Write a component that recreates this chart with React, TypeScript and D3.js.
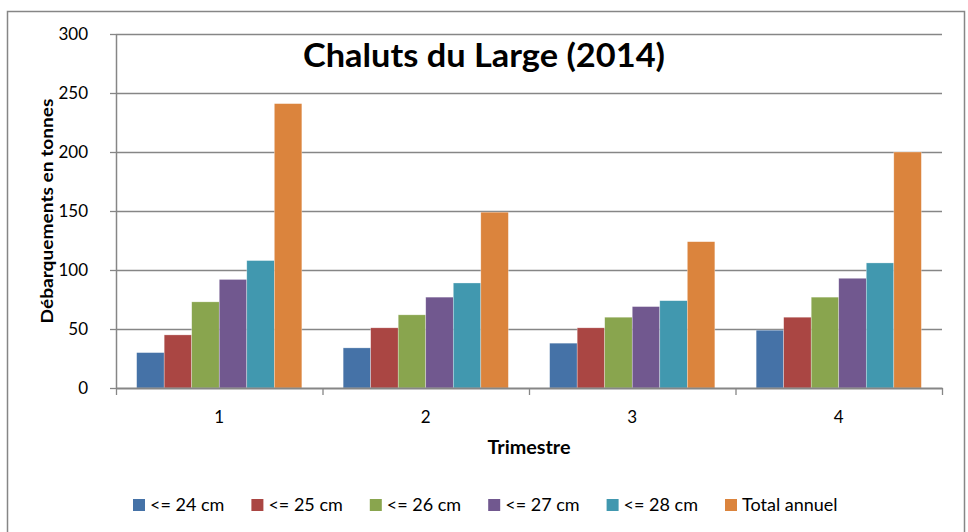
import React, { useRef, useEffect } from 'react'
import * as d3 from 'd3'

const categories = ['1', '2', '3', '4']
const seriesNames = ['<= 24 cm', '<= 25 cm', '<= 26 cm', '<= 27 cm', '<= 28 cm', 'Total annuel']
const cm24 = [30, 34, 38, 49]
const cm25 = [45, 51, 51, 60]
const cm26 = [73, 62, 60, 77]
const cm27 = [92, 77, 69, 93]
const cm28 = [108, 89, 74, 106]
const totalAnnuel = [241, 149, 124, 200]
const yTicks = [0, 50, 100, 150, 200, 250, 300]
const colors = ['#4572A7', '#AA4643', '#89A54E', '#71588F', '#4198AF', '#DB843D']

const series = [cm24, cm25, cm26, cm27, cm28, totalAnnuel]

const FONT = 'Lato, Calibri, sans-serif'
const GREY = '#868686'

const App = () => {
  const svgRef = useRef<SVGSVGElement>(null)

  useEffect(() => {
    const svg = d3.select(svgRef.current)
    svg.selectAll('*').remove()

    const left = 116, right = 942, top = 34, bottom = 388

    // outer frame
    svg.append('rect')
      .attr('x', 7.5).attr('y', 11.5)
      .attr('width', 957).attr('height', 540)
      .attr('fill', '#fff')
      .attr('stroke', GREY)
      .attr('stroke-width', 1.5)

    const y = d3.scaleLinear().domain([0, 300]).range([bottom, top])
    const x0 = d3.scaleBand().domain(categories).range([left, right])
    const x1 = d3.scaleBand().domain(seriesNames).range([0, x0.bandwidth()]).paddingOuter(0.75)

    // gridlines
    svg.append('g')
      .selectAll('line')
      .data(yTicks.filter(d => d > 0))
      .enter().append('line')
      .attr('x1', left).attr('x2', right)
      .attr('y1', d => Math.round(y(d)) + 0.5)
      .attr('y2', d => Math.round(y(d)) + 0.5)
      .attr('stroke', GREY)
      .attr('stroke-width', 1.3)

    // bars
    const rows = categories.map((c, i) => ({ c, vals: series.map((s, j) => ({ name: seriesNames[j], v: s[i], color: colors[j] })) }))
    svg.append('g')
      .selectAll('g')
      .data(rows)
      .enter().append('g')
      .attr('transform', d => `translate(${x0(d.c)},0)`)
      .selectAll('rect')
      .data(d => d.vals)
      .enter().append('rect')
      .attr('x', d => x1(d.name) as number)
      .attr('y', d => y(d.v))
      .attr('width', x1.bandwidth())
      .attr('height', d => bottom - y(d.v))
      .attr('fill', d => d.color)
      .attr('stroke', 'rgba(255,255,255,0.5)')
      .attr('stroke-width', 0.6)

    // y axis
    const yAxis = svg.append('g')
      .attr('transform', `translate(${left},0)`)
      .call(d3.axisLeft(y).tickValues(yTicks).tickSize(6).tickPadding(22).tickSizeOuter(0))
    yAxis.select('.domain').attr('stroke', GREY).attr('stroke-width', 1.5)
    yAxis.selectAll('.tick line').attr('stroke', GREY).attr('stroke-width', 1.3)
    yAxis.selectAll('text')
      .attr('font-family', FONT).attr('font-size', 17).attr('fill', '#000')

    // x axis (ticks between categories)
    const xEdge = d3.scaleLinear().domain([0, categories.length]).range([left, right])
    const xAxis = svg.append('g')
      .attr('transform', `translate(0,${bottom})`)
      .call(d3.axisBottom(xEdge).tickValues(d3.range(categories.length + 1)).tickFormat(() => '').tickSize(7).tickSizeOuter(0))
    xAxis.select('.domain').attr('stroke', GREY).attr('stroke-width', 2)
    xAxis.selectAll('.tick line').attr('stroke', GREY).attr('stroke-width', 1.3)

    svg.append('g')
      .selectAll('text')
      .data(categories)
      .enter().append('text')
      .attr('x', d => (x0(d) as number) + x0.bandwidth() / 2)
      .attr('y', 423)
      .attr('text-anchor', 'middle')
      .attr('font-family', FONT).attr('font-size', 17)
      .text(d => d)

    // titles
    svg.append('text')
      .attr('x', 484).attr('y', 67)
      .attr('text-anchor', 'middle')
      .attr('font-family', FONT).attr('font-weight', 'bold').attr('font-size', 33)
      .attr('textLength', 362).attr('lengthAdjust', 'spacingAndGlyphs')
      .text('Chaluts du Large (2014)')

    svg.append('text')
      .attr('x', (left + right) / 2).attr('y', 454)
      .attr('text-anchor', 'middle')
      .attr('font-family', FONT).attr('font-weight', 'bold').attr('font-size', 18)
      .attr('textLength', 83).attr('lengthAdjust', 'spacingAndGlyphs')
      .text('Trimestre')

    svg.append('text')
      .attr('transform', `translate(53,${(top + bottom) / 2}) rotate(-90)`)
      .attr('text-anchor', 'middle')
      .attr('font-family', FONT).attr('font-weight', 'bold').attr('font-size', 17)
      .attr('textLength', 225).attr('lengthAdjust', 'spacingAndGlyphs')
      .text('Débarquements en tonnes')

    // legend
    const legend = svg.append('g')
      .selectAll('g')
      .data(seriesNames)
      .enter().append('g')
      .attr('transform', (d, i) => `translate(${133 + i * 118.4},499)`)
    legend.append('rect')
      .attr('width', 12).attr('height', 12)
      .attr('fill', (d, i) => colors[i])
    legend.append('text')
      .attr('x', 17).attr('y', 12)
      .attr('font-family', FONT).attr('font-size', 18)
      .text(d => d)
  }, [])

  return (
    <svg ref={svgRef} width={968} height={532} style={{ position: 'absolute', left: 0, top: 0, background: '#fff' }}></svg>
  )
}

export default App
